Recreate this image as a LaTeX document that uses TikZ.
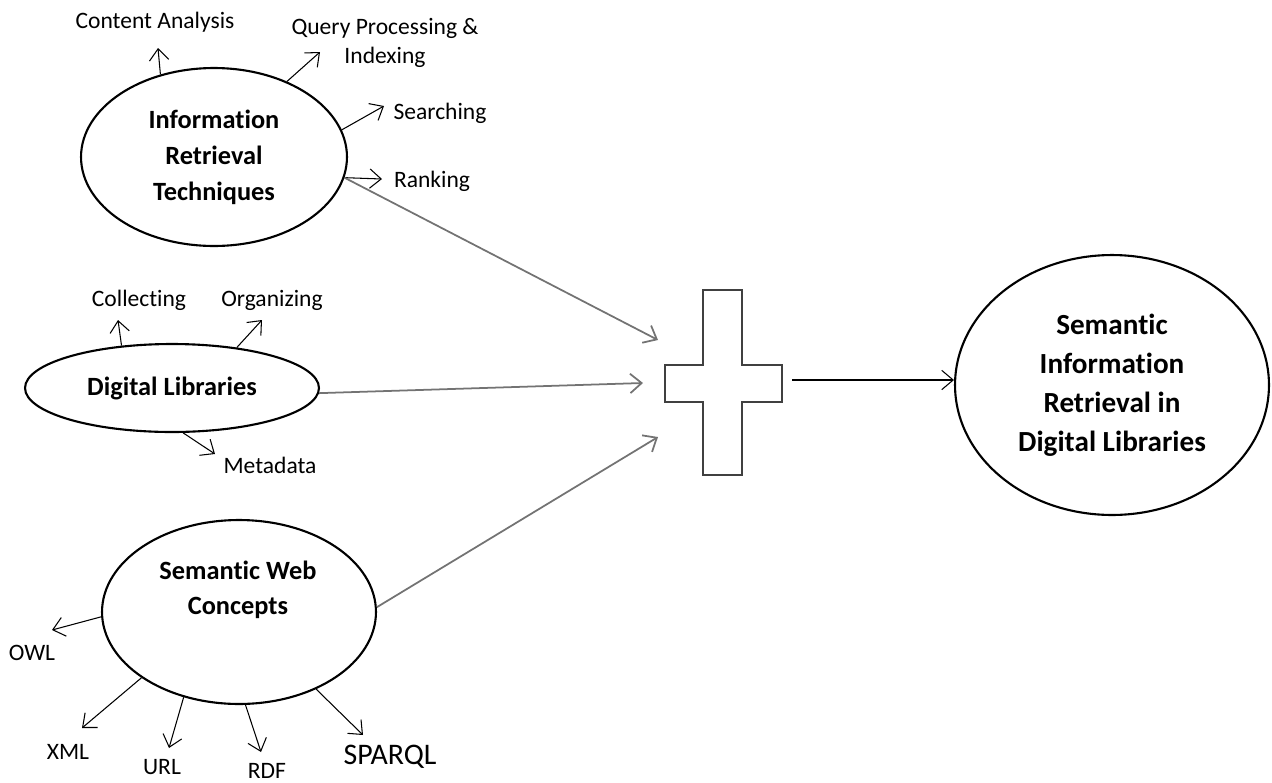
\documentclass[tikz,border=0pt]{standalone}
\usepackage{fontspec}
\setmainfont{Carlito}[Ligatures=NoCommon]
\usetikzlibrary{arrows.meta,shapes.geometric}

\begin{document}
\begin{tikzpicture}[
  x=0.02cm, y=-0.02cm, >={Straight Barb[length=6.5pt,width=11pt]},
  topic/.style={draw, ellipse, line width=1.2pt, inner sep=0pt, align=center, font=\bfseries\fontsize{15}{20.4}\selectfont},
  item/.style={font=\fontsize{13.4}{16.4}\selectfont, align=center, inner sep=1pt},
  arr/.style={->, line width=0.6pt},
  feed/.style={->, line width=1pt, color=black!55},
]
\useasboundingbox (0,0) rectangle (1272,782);

% three source topics
\node[topic, minimum width=5.32cm, minimum height=3.56cm] (ir) at (214,157)
  {Information\\Retrieval\\Techniques};
\node[topic, minimum width=5.88cm, minimum height=1.76cm] (dl) at (172,388)
  {Digital Libraries};
\node[topic, minimum width=5.48cm, minimum height=3.68cm] (sw) at (239,612) {};
\node[align=center, font=\bfseries\fontsize{15}{19.8}\selectfont] (swtxt) at (238,590)
  {Semantic Web\\Concepts};

% result
\node[topic, minimum width=6.28cm, minimum height=5.2cm, font=\bfseries\fontsize{16.6}{22.2}\selectfont] (sir) at (1112,385)
  {Semantic\\Information\\Retrieval in\\Digital Libraries};

% plus sign
\draw[line width=1.5pt, color=black!75] (703,290) -- (742,290) -- (742,365) -- (782,365)
  -- (782,402) -- (742,402) -- (742,475) -- (703,475) -- (703,402) -- (665,402)
  -- (665,365) -- (703,365) -- cycle;
\coordinate (inir) at (658,340);
\coordinate (indl) at (643,383);
\coordinate (insw) at (658,437);
\coordinate (outp) at (792,380);

% labels
\node[item] (ca) at (155,22) {Content Analysis};
\node[item] (qp) at (385,43) {Query Processing \&\\Indexing};
\node[item] (se) at (440,113) {Searching};
\node[item] (ra) at (432,181) {Ranking};
\node[item] (co) at (139,300) {Collecting};
\node[item] (og) at (272,300) {Organizing};
\node[item] (me) at (270,465) {Metadata};
\node[item] (owl) at (32,653) {OWL};
\node[item] (xml) at (68,752) {XML};
\node[item] (url) at (162,767) {URL};
\node[item] (rdf) at (267,771) {RDF};
\node[item, font=\fontsize{17}{20}\selectfont] (sq) at (390,757) {SPARQL};

% label arrow tips
\coordinate (caT) at (158,48);
\coordinate (qpT) at (320,52);
\coordinate (seT) at (384,106);
\coordinate (raT) at (382,179);
\coordinate (coT) at (118,320);
\coordinate (ogT) at (262,320);
\coordinate (meT) at (215,454);
\coordinate (owlT) at (52,630);
\coordinate (xmlT) at (82,728);
\coordinate (urlT) at (169,748);
\coordinate (rdfT) at (261,752);
\coordinate (sqT) at (363,735);

\draw[arr] (ir.123) -- (caT);
\draw[arr] (ir.46) -- (qpT);
\draw[arr] (ir.12) -- (seT);
\draw[arr] (ir.-9) -- (raT);
\draw[arr] (dl.140) -- (coT);
\draw[arr] (dl.32) -- (ogT);
\draw[arr] (dl.-76) -- (meT);
\draw[arr] (sw.182) -- (owlT);
\draw[arr] (sw.214) -- (xmlT);
\draw[arr] (sw.-123) -- (urlT);
\draw[arr] (sw.-86) -- (rdfT);
\draw[arr] (sw.-45) -- (sqT);

\draw[feed] (ir.-9) -- (inir);
\draw[feed] (dl.-2) -- (indl);
\draw[feed] (sw.2) -- (insw);
\draw[arr] (outp) -- (outp -| sir.west);
\end{tikzpicture}
\end{document}
